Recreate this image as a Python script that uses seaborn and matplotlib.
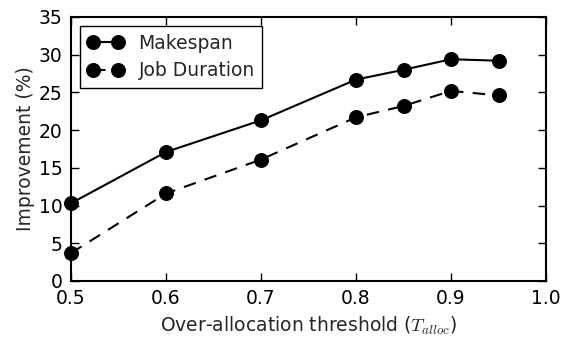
import pandas as pd
import matplotlib
matplotlib.use("Agg")
import matplotlib.pyplot as plt
import seaborn as sns

# values
thresholds = [0.5, 0.6, 0.7, 0.8, 0.85, 0.9, 0.95]
makespan = [10.3, 17.1, 21.3, 26.7, 28.0, 29.4, 29.2]
job_duration = [3.7, 11.6, 16.1, 21.7, 23.2, 25.2, 24.6]
series_names = ["Makespan", "Job Duration"]


def main():
    df = pd.DataFrame({
        "threshold": thresholds * 2,
        "improvement": makespan + job_duration,
        "series": [series_names[0]] * len(thresholds) + [series_names[1]] * len(thresholds),
    })

    sns.set_style("ticks")
    plt.rcParams["font.family"] = ["DejaVu Sans"]
    plt.rcParams["mathtext.fontset"] = "cm"
    plt.rcParams["xtick.direction"] = "in"
    plt.rcParams["ytick.direction"] = "in"

    fig = plt.figure(figsize=(5.66, 3.37), dpi=100)
    ax = fig.add_axes([0.1254, 0.1662, 0.8393, 0.7834])

    sns.lineplot(data=df, x="threshold", y="improvement", style="series",
                 style_order=series_names, color="black", markers=["o", "o"],
                 dashes=[(None, None), (6, 4.5)], markersize=10, linewidth=1.5,
                 markeredgecolor="black", ax=ax, clip_on=False)

    ax.set_xlim(0.5, 1.0)
    ax.set_ylim(0, 35)
    ax.set_xticks([0.5, 0.6, 0.7, 0.8, 0.9, 1.0])
    ax.set_yticks(range(0, 36, 5))
    ax.tick_params(axis="both", which="both", top=True, right=True,
                   direction="in", length=6, width=1, labelsize=13.5,
                   colors="black")
    ax.tick_params(axis="x", pad=6)
    ax.tick_params(axis="y", pad=6)
    for sp in ax.spines.values():
        sp.set_visible(True)
        sp.set_linewidth(1.5)
        sp.set_color("black")

    ax.set_xlabel(r"Over-allocation threshold ($T_{alloc}$)", fontsize=13.5, labelpad=5)
    ax.set_ylabel("Improvement (%)", fontsize=13.5, labelpad=3)

    handles, labels = ax.get_legend_handles_labels()
    leg = ax.legend(handles, labels, loc="upper left", numpoints=2,
                    fontsize=13.5, frameon=True, fancybox=False,
                    edgecolor="black", framealpha=1, borderaxespad=0.5,
                    handlelength=1.9, handletextpad=0.8, borderpad=0.4,
                    labelspacing=0.45)
    leg.get_frame().set_linewidth(1.0)

    fig.savefig("out.png", dpi=100)
    plt.close(fig)


if __name__ == "__main__":
    main()
